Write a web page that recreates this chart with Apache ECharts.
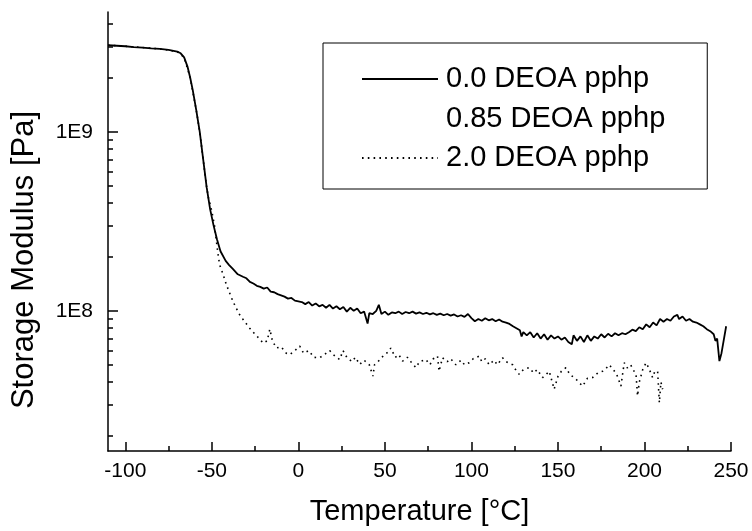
<!DOCTYPE html>
<html>
<head>
<meta charset="utf-8">
<script src="https://cdn.jsdelivr.net/npm/echarts@6/dist/echarts.min.js"></script>
<style>
  html, body { margin: 0; padding: 0; background: #fff; }
  #chart { width: 752px; height: 531px; }
</style>
</head>
<body>
<div id="chart"></div>
<script>
// legend names
var seriesNames = ['0.0 DEOA pphp', '0.85 DEOA pphp', '2.0 DEOA pphp'];

// tick labels / positions
var xMajorTicks = [-100, -50, 0, 50, 100, 150, 200, 250];
var xMinorTicks = [-75, -25, 25, 75, 125, 175, 225];
var yMajorTicks = [1e8, 1e9];
var yMinorTicks = [2e7, 3e7, 4e7, 5e7, 6e7, 7e7, 8e7, 9e7,
                   2e8, 3e8, 4e8, 5e8, 6e8, 7e8, 8e8, 9e8,
                   2e9, 3e9, 4e9];

// 0.0 DEOA pphp : [temperature, storage modulus Pa]
var deoa00 = [
  [-110,3.04e9],[-105,3.02e9],[-100,3.0e9],[-95,2.97e9],[-90,2.95e9],[-85,2.92e9],[-80,2.9e9],
  [-75,2.86e9],[-70,2.8e9],[-68,2.74e9],[-66,2.6e9],[-64,2.3e9],[-62.5,2.0e9],[-61,1.7e9],
  [-59,1.32e9],[-57,1.0e9],[-55,7.0e8],[-53,4.9e8],[-51,3.7e8],[-49,3.0e8],[-47,2.5e8],
  [-45,2.15e8],[-42,1.9e8],[-40,1.8e8],[-38,1.72e8],[-35,1.6e8],[-32,1.55e8],[-30,1.52e8],
  [-28,1.45e8],[-26,1.42e8],[-24,1.38e8],[-22,1.36e8],[-20,1.33e8],[-18,1.35e8],[-16,1.28e8],
  [-14,1.27e8],[-12,1.24e8],[-10,1.22e8],[-8,1.2e8],[-6,1.17e8],[-4,1.18e8],[-2,1.14e8],
  [0,1.13e8],[2,1.12e8],[4,1.09e8],[6,1.12e8],[8,1.07e8],[10,1.1e8],[12,1.06e8],[14,1.08e8],
  [16,1.04e8],[18,1.08e8],[20,1.03e8],[22,1.06e8],[24,1.02e8],[26,1.05e8],[28,0.99e8],
  [30,1.04e8],[32,1.0e8],[34,1.03e8],[36,0.97e8],[38,0.99e8],[40,0.85e8],[41,0.97e8],
  [43,0.96e8],[45,1.0e8],[46.5,1.08e8],[48,0.96e8],[50,0.99e8],[52,0.95e8],[54,0.98e8],
  [56,0.97e8],[58,0.99e8],[60,0.96e8],[62,0.985e8],[64,0.97e8],[66,0.99e8],[68,0.965e8],
  [70,0.98e8],[72,0.96e8],[74,0.975e8],[76,0.955e8],[78,0.97e8],[80,0.95e8],[82,0.965e8],
  [84,0.945e8],[86,0.96e8],[88,0.94e8],[90,0.955e8],[92,0.93e8],[94,0.945e8],[96,0.925e8],
  [98,0.96e8],[99,0.95e8],[100,0.91e8],[102,0.875e8],[104,0.9e8],[106,0.88e8],[108,0.91e8],
  [110,0.885e8],[112,0.9e8],[114,0.875e8],[116,0.895e8],[118,0.87e8],[120,0.86e8],[122,0.845e8],
  [124,0.82e8],[126,0.8e8],[128,0.78e8],[129,0.72e8],[130,0.76e8],[132,0.73e8],[134,0.76e8],
  [136,0.71e8],[138,0.75e8],[140,0.7e8],[142,0.74e8],[144,0.69e8],[146,0.73e8],[148,0.7e8],
  [150,0.72e8],[152,0.69e8],[154,0.71e8],[156,0.67e8],[158,0.65e8],[159,0.73e8],[161,0.68e8],
  [163,0.72e8],[165,0.67e8],[167,0.73e8],[169,0.68e8],[171,0.72e8],[173,0.7e8],[175,0.74e8],
  [177,0.71e8],[179,0.745e8],[181,0.72e8],[183,0.75e8],[185,0.73e8],[187,0.75e8],[189,0.74e8],
  [191,0.76e8],[193,0.785e8],[195,0.77e8],[197,0.81e8],[199,0.79e8],[201,0.84e8],[203,0.81e8],
  [205,0.86e8],[207,0.83e8],[209,0.9e8],[211,0.87e8],[213,0.9e8],[215,0.88e8],[217,0.93e8],
  [219,0.95e8],[220,0.9e8],[222,0.93e8],[224,0.88e8],[226,0.9e8],[228,0.87e8],[230,0.86e8],
  [232,0.84e8],[234,0.82e8],[236,0.79e8],[238,0.77e8],[240,0.74e8],[241,0.68e8],[242,0.7e8],
  [243.3,0.524e8],[244.5,0.58e8],[245.5,0.585e8],[247.2,0.82e8]
];

// 0.85 DEOA pphp : curve not visible in the figure
var deoa085 = [];

// 2.0 DEOA pphp
var deoa20 = [
  [-110,3.04e9],[-100,3.0e9],[-90,2.95e9],[-80,2.9e9],[-70,2.8e9],[-66,2.6e9],[-62.5,2.0e9],
  [-59,1.32e9],[-57,1.0e9],[-55,7.0e8],[-53,4.9e8],[-52,4.3e8],[-50,3.6e8],[-48.4,2.96e8],
  [-46.5,2.1e8],[-45.5,1.81e8],[-43.5,1.6e8],[-41.6,1.4e8],[-39.6,1.25e8],[-37.8,1.13e8],
  [-35.8,1.03e8],[-33.9,0.95e8],[-31,0.87e8],[-28.1,0.8e8],[-25,0.74e8],[-22,0.69e8],
  [-20.4,0.66e8],[-18,0.68e8],[-16.5,0.79e8],[-15,0.68e8],[-12.7,0.62e8],[-10,0.63e8],
  [-7,0.58e8],[-5,0.57e8],[-2,0.6e8],[0.8,0.635e8],[3,0.58e8],[6,0.6e8],[9,0.55e8],
  [12.3,0.547e8],[15,0.57e8],[18.1,0.6e8],[21,0.56e8],[23.9,0.535e8],[25.8,0.6e8],[28,0.55e8],
  [31,0.52e8],[33,0.55e8],[35.4,0.502e8],[38,0.53e8],[41,0.5e8],[43.1,0.432e8],[44,0.5e8],
  [46,0.52e8],[49,0.56e8],[52.4,0.596e8],[53.4,0.62e8],[56,0.55e8],[58,0.57e8],[60.2,0.524e8],
  [63,0.55e8],[65,0.52e8],[67.9,0.482e8],[70,0.52e8],[73.6,0.535e8],[76,0.5e8],[78,0.54e8],
  [80.4,0.559e8],[81.3,0.46e8],[83.3,0.547e8],[86,0.52e8],[88,0.54e8],[91,0.5e8],[94,0.53e8],
  [96,0.5e8],[98.7,0.513e8],[101,0.54e8],[104.5,0.559e8],[106,0.52e8],[108,0.54e8],
  [110.3,0.5e8],[113,0.53e8],[115,0.5e8],[118,0.547e8],[120,0.52e8],[123.8,0.5e8],
  [125.5,0.47e8],[127.6,0.442e8],[130,0.47e8],[133.4,0.482e8],[136,0.45e8],[138,0.47e8],
  [141.1,0.424e8],[143,0.44e8],[145,0.46e8],[147.8,0.365e8],[150,0.43e8],[152,0.46e8],
  [154.6,0.482e8],[157,0.44e8],[160,0.42e8],[162,0.4e8],[164.3,0.38e8],[167,0.42e8],
  [170,0.424e8],[173,0.45e8],[175.8,0.46e8],[178,0.48e8],[179.6,0.5e8],[182,0.47e8],
  [184,0.44e8],[186.4,0.38e8],[188.3,0.513e8],[190,0.48e8],[192,0.5e8],[194,0.46e8],
  [195.1,0.442e8],[196,0.335e8],[197,0.4e8],[199,0.47e8],[200.9,0.513e8],[202.5,0.48e8],
  [204.7,0.424e8],[206,0.46e8],[207.6,0.46e8],[208.6,0.307e8],[209.5,0.4e8],[210.5,0.365e8]
];

var font = 'Liberation Sans, Arial, sans-serif';
var yMin = 1.65e7, yMax = 4.66e9;

var chart = echarts.init(document.getElementById('chart'), null, {renderer: 'canvas'});

var option = {
    backgroundColor: '#fff',
    animation: false,
    grid: { left: 108, right: 21, top: 12, bottom: 79 },
    legend: {
        orient: 'vertical',
        left: 323,
        top: 43,
        padding: [21.5, 42, 16.5, 38],
        itemGap: 10.5,
        itemWidth: 76,
        itemHeight: 20,
        borderColor: '#000',
        borderWidth: 1,
        data: seriesNames,
        itemStyle: { opacity: 0 },
        textStyle: { fontFamily: font, fontSize: 29, color: '#000', padding: [0, 0, 0, 3] }
    },
    xAxis: [{
        type: 'value',
        min: -110,
        max: 250,
        name: 'Temperature [°C]',
        nameLocation: 'middle',
        nameGap: 46,
        nameTextStyle: { fontFamily: font, fontSize: 29, color: '#000' },
        axisLine: { onZero: false, lineStyle: { color: '#000', width: 1.5 } },
        axisTick: { inside: true, length: 9, customValues: xMajorTicks, lineStyle: { color: '#000', width: 1.5 } },
        axisLabel: { customValues: xMajorTicks, margin: 10, fontFamily: font, fontSize: 21, color: '#000' },
        splitLine: { show: false }
    }, {
        type: 'value',
        min: -110,
        max: 250,
        position: 'bottom',
        axisLine: { show: false, onZero: false },
        axisTick: { inside: true, length: 5, customValues: xMinorTicks, lineStyle: { color: '#000', width: 1.5 } },
        axisLabel: { show: false },
        splitLine: { show: false }
    }],
    yAxis: [{
        type: 'log',
        logBase: 10,
        min: yMin,
        max: yMax,
        name: 'Storage Modulus [Pa]',
        nameLocation: 'middle',
        nameGap: 68,
        nameTextStyle: { fontFamily: font, fontSize: 31, color: '#000', padding: [0, 57, 0, 0] },
        axisLine: { onZero: false, lineStyle: { color: '#000', width: 1.5 } },
        axisTick: { inside: true, length: 10, customValues: yMajorTicks, lineStyle: { color: '#000', width: 1.5 } },
        axisLabel: {
            customValues: yMajorTicks,
            margin: 15,
            fontFamily: font,
            fontSize: 21,
            color: '#000',
            formatter: function (v) { return '1E' + Math.round(Math.log10(v)); }
        },
        splitLine: { show: false }
    }, {
        type: 'log',
        logBase: 10,
        min: yMin,
        max: yMax,
        position: 'left',
        axisLine: { show: false, onZero: false },
        axisTick: { inside: true, length: 5, customValues: yMinorTicks, lineStyle: { color: '#000', width: 1.5 } },
        axisLabel: { show: false },
        splitLine: { show: false }
    }],
    series: [{
        name: seriesNames[0],
        type: 'line',
        data: deoa00,
        showSymbol: false,
        symbol: 'none',
        itemStyle: { color: '#000' },
        lineStyle: { color: '#000', width: 1.8 }
    }, {
        name: seriesNames[1],
        type: 'line',
        data: deoa085,
        showSymbol: false,
        symbol: 'none',
        itemStyle: { color: 'rgba(0,0,0,0)' },
        lineStyle: { color: 'rgba(0,0,0,0)', width: 1.6 }
    }, {
        name: seriesNames[2],
        type: 'line',
        data: deoa20,
        showSymbol: false,
        symbol: 'none',
        itemStyle: { color: '#000' },
        lineStyle: { color: '#000', width: 1.6, type: [1.6, 4.2] }
    }]
};

chart.setOption(option);
</script>
</body>
</html>
